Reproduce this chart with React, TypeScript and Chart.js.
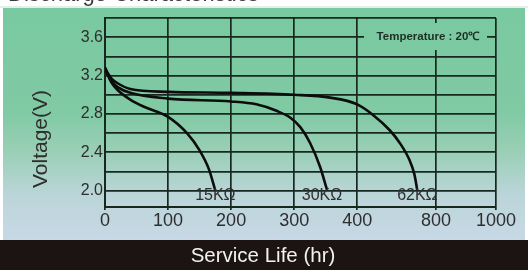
import React, { useEffect, useRef } from 'react';
import { Chart, registerables, LinearScale } from 'chart.js';

Chart.register(...registerables);

// ---- data ----
const hours15 = [0, 5, 10, 20, 40, 60, 100, 130, 150, 165, 175];
const volts15 = [3.28, 3.2, 3.13, 3.05, 2.95, 2.88, 2.77, 2.6, 2.42, 2.22, 2.0];

const hours30 = [0, 5, 10, 20, 40, 100, 200, 240, 273, 294, 310, 325, 341, 352];
const volts30 = [3.28, 3.2, 3.14, 3.08, 3.02, 2.96, 2.93, 2.9, 2.83, 2.76, 2.66, 2.5, 2.25, 2.01];

const hours62 = [0, 5, 10, 20, 40, 100, 200, 300, 357, 400, 480, 565, 615, 665, 690, 705];
const volts62 = [3.28, 3.22, 3.17, 3.12, 3.06, 3.03, 3.02, 3.0, 2.97, 2.9, 2.79, 2.63, 2.5, 2.32, 2.17, 2.0];

const curveLabels = ['15KΩ', '30KΩ', '62KΩ'];

const xTickValues = [0, 100, 200, 300, 400, 800, 1000];
const xBreakValues = [0, 400, 800, 1000];
const xBreakFractions = [0, 4 / 6.2, 5.25 / 6.2, 1];

const yGridValues = [2.0, 2.2, 2.4, 2.6, 2.8, 3.0, 3.2, 3.4, 3.6, 3.8];
const yLabelValues = [2.0, 2.4, 2.8, 3.2, 3.6];

const titleText = 'Discharge Characteristics';
const yTitle = 'Voltage(V)';
const xTitle = 'Service Life (hr)';
const tempText = 'Temperature : 20℃';

const FONT = '"Liberation Sans", Arial, sans-serif';
const gridColor = '#17291f';
const textColor = '#2e2e2e';
const labelOffsets = [0, -5, 0];

function valueToFraction(v: number): number {
  for (let i = 1; i < xBreakValues.length; i++) {
    if (v <= xBreakValues[i] || i === xBreakValues.length - 1) {
      const a = xBreakValues[i - 1], b = xBreakValues[i];
      const fa = xBreakFractions[i - 1], fb = xBreakFractions[i];
      return fa + ((v - a) / (b - a)) * (fb - fa);
    }
  }
  return 0;
}
function fractionToValue(f: number): number {
  for (let i = 1; i < xBreakFractions.length; i++) {
    if (f <= xBreakFractions[i] || i === xBreakFractions.length - 1) {
      const a = xBreakValues[i - 1], b = xBreakValues[i];
      const fa = xBreakFractions[i - 1], fb = xBreakFractions[i];
      return a + ((f - fa) / (fb - fa)) * (b - a);
    }
  }
  return 0;
}

class PiecewiseScale extends (LinearScale as any) {
  static id = 'piecewise';
  getPixelForValue(value: any) {
    if (value === null || value === undefined || isNaN(value)) return NaN;
    return (this as any).getPixelForDecimal(valueToFraction(+value));
  }
  getValueForPixel(pixel: number) {
    return fractionToValue((this as any).getDecimalForPixel(pixel));
  }
}
Chart.register(PiecewiseScale as any);

function makeGradient(ctx: CanvasRenderingContext2D) {
  const g = ctx.createLinearGradient(0, 8, 0, 240);
  g.addColorStop(0, '#79c9a0');
  g.addColorStop(0.45, '#80caa4');
  g.addColorStop(0.62, '#9acfb6');
  g.addColorStop(0.8, '#bad5d8');
  g.addColorStop(1, '#c8d8e6');
  return g;
}

const decorPlugin = {
  id: 'decor',
  beforeDraw(chart: any) {
    const ctx: CanvasRenderingContext2D = chart.ctx;
    const w = chart.width, h = chart.height;
    ctx.save();
    ctx.fillStyle = '#ffffff';
    ctx.fillRect(0, 0, w, h);
    ctx.fillStyle = '#3a3a3a';
    ctx.font = `22px ${FONT}`;
    ctx.textBaseline = 'alphabetic';
    ctx.textAlign = 'left';
    ctx.fillText(titleText, 8, 1);
    ctx.fillStyle = '#e4efe9';
    ctx.fillRect(0, 6, w, 2);
    ctx.fillStyle = makeGradient(ctx);
    ctx.fillRect(3, 8, w - 6, 232);
    ctx.fillStyle = '#1c1313';
    ctx.fillRect(0, 240, w, h - 240);
    ctx.restore();
  },
  afterDraw(chart: any) {
    const ctx: CanvasRenderingContext2D = chart.ctx;
    const xs = chart.scales.x, ys = chart.scales.y;
    ctx.save();
    // temperature box
    ctx.fillStyle = makeGradient(ctx);
    ctx.fillRect(364, 23, 123, 27);
    ctx.fillStyle = '#1e2e26';
    ctx.font = `bold 11.5px ${FONT}`;
    ctx.textAlign = 'center';
    ctx.textBaseline = 'middle';
    ctx.fillText(tempText, 428, 37);
    // curve labels
    const ends = [hours15[hours15.length - 1], hours30[hours30.length - 1], hours62[hours62.length - 1]];
    ctx.font = `16px ${FONT}`;
    ctx.fillStyle = textColor;
    curveLabels.forEach((lbl, i) => {
      ctx.fillText(lbl, xs.getPixelForValue(ends[i]) + labelOffsets[i], ys.getPixelForValue(2.0) + 5);
    });
    // y title
    ctx.save();
    ctx.translate(41, 139);
    ctx.rotate(-Math.PI / 2);
    ctx.font = `21px ${FONT}`;
    ctx.fillStyle = textColor;
    ctx.fillText(yTitle, 0, 0);
    ctx.restore();
    // x title
    ctx.font = `20.5px ${FONT}`;
    ctx.fillStyle = '#f2f2f2';
    ctx.fillText(xTitle, 263, 256);
    ctx.restore();
  },
};

function toPoints(xs: number[], ys: number[]) {
  return xs.map((x, i) => ({ x, y: ys[i] }));
}

export default function App() {
  const ref = useRef<HTMLCanvasElement>(null);
  useEffect(() => {
    if (!ref.current) return;
    Chart.defaults.font.family = FONT;
    const lineStyle = {
      borderColor: '#0d0d0d',
      borderWidth: 2.6,
      pointRadius: 0,
      fill: false,
      cubicInterpolationMode: 'monotone' as const,
    };
    const chart = new Chart(ref.current, {
      type: 'line',
      data: {
        datasets: [
          { label: curveLabels[0], data: toPoints(hours15, volts15), ...lineStyle },
          { label: curveLabels[1], data: toPoints(hours30, volts30), ...lineStyle },
          { label: curveLabels[2], data: toPoints(hours62, volts62), ...lineStyle },
        ],
      },
      options: {
        animation: false,
        responsive: false,
        devicePixelRatio: 1,
        layout: { padding: { top: 18, right: 32, bottom: 33, left: 0 } },
        plugins: { legend: { display: false }, tooltip: { enabled: false } },
        scales: {
          x: {
            type: 'piecewise' as any,
            min: 0,
            max: 1000,
            afterBuildTicks: (s: any) => {
              s.ticks = xTickValues.map((v) => ({ value: v }));
            },
            afterFit: (s: any) => {
              s.height = 30;
            },
            grid: { color: gridColor, lineWidth: 1.7, tickLength: 3, drawTicks: true },
            border: { display: true, color: gridColor, width: 2 },
            ticks: {
              color: textColor,
              font: { size: 18 },
              padding: 0,
              maxRotation: 0,
              autoSkip: false,
              callback: (v: any) => String(v),
            },
          } as any,
          y: {
            type: 'linear',
            min: 1.83,
            max: 3.8,
            afterBuildTicks: (s: any) => {
              s.ticks = yGridValues.map((v) => ({ value: v }));
            },
            afterFit: (s: any) => {
              s.width = 105;
            },
            grid: { color: gridColor, lineWidth: 1.7, drawTicks: false },
            border: { display: true, color: gridColor, width: 2 },
            ticks: {
              color: textColor,
              font: { size: 16 },
              padding: 2,
              autoSkip: false,
              callback: (v: any) =>
                yLabelValues.some((l) => Math.abs(l - v) < 1e-6) ? Number(v).toFixed(1) : '',
            },
          },
        },
      },
      plugins: [decorPlugin],
    });
    return () => chart.destroy();
  }, []);
  return (
    <div style={{ position: 'fixed', left: 0, top: 0, width: 528, height: 270 }}>
      <canvas ref={ref} width={528} height={270} style={{ width: 528, height: 270, display: 'block' }} />
    </div>
  );
}
